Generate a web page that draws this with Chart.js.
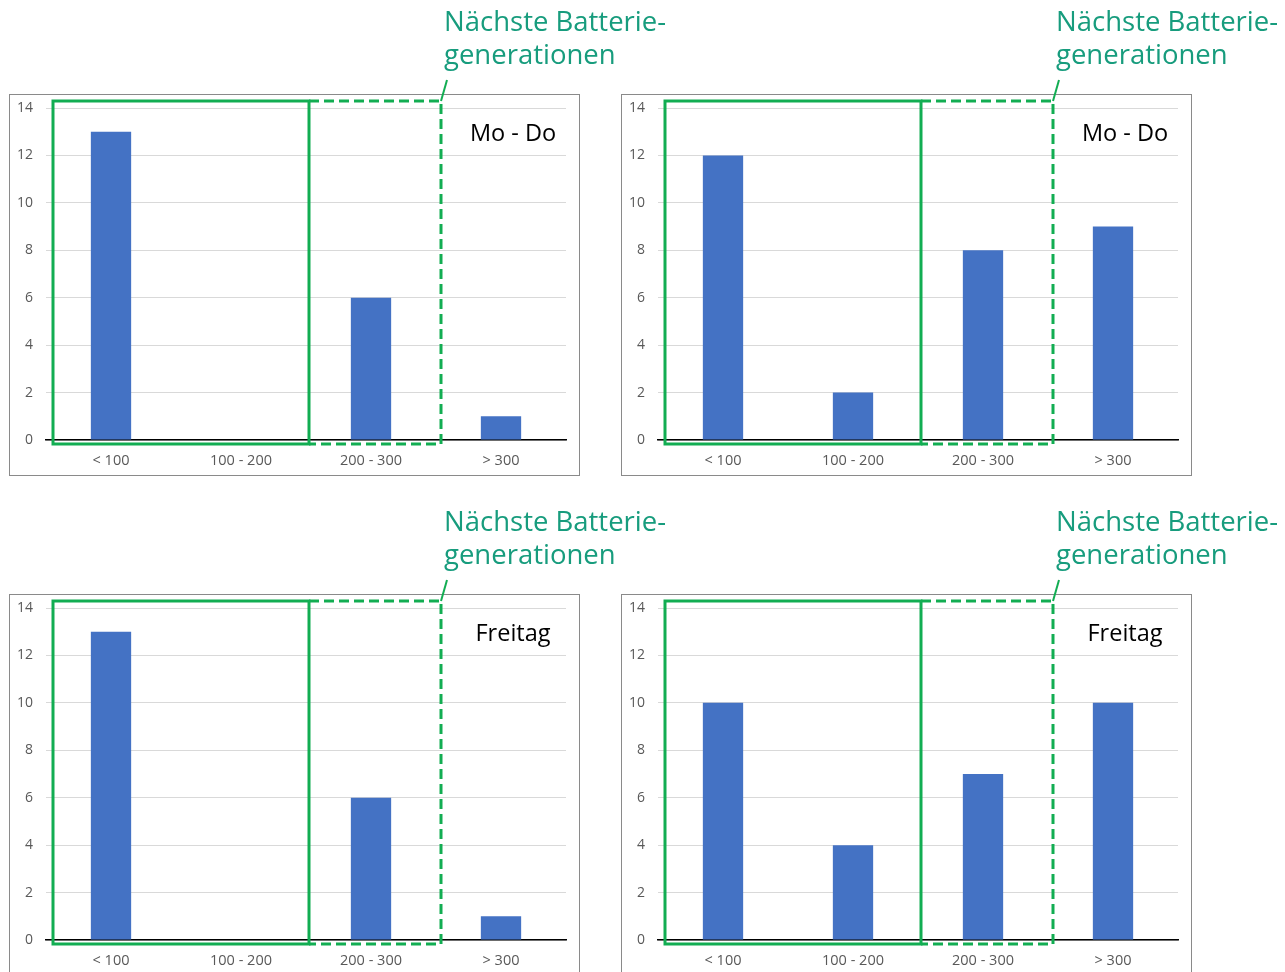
<!DOCTYPE html>
<html lang="de">
<head>
<meta charset="utf-8">
<title>Batteriegenerationen</title>
<script src="https://cdn.jsdelivr.net/npm/chart.js@4"></script>
<style>
    html, body { margin: 0; padding: 0; background: #fff; }
    #page { position: relative; width: 1285px; height: 972px; overflow: hidden; }
    #page canvas { position: absolute; }
</style>
</head>
<body>
<div id="page">
    <canvas id="moDoLinks" width="680" height="480" style="left:0;top:0"></canvas>
    <canvas id="moDoRechts" width="673" height="480" style="left:612px;top:0"></canvas>
    <canvas id="freitagLinks" width="680" height="480" style="left:0;top:500px"></canvas>
    <canvas id="freitagRechts" width="673" height="480" style="left:612px;top:500px"></canvas>
</div>
<script>
const categories = ['< 100', '100 - 200', '200 - 300', '> 300'];
const moDoLinks = [13, 0, 6, 1];
const moDoRechts = [12, 2, 8, 9];
const freitagLinks = [13, 0, 6, 1];
const freitagRechts = [10, 4, 7, 10];
const yMax = 14;
const yStep = 2;
const calloutLines = ['Nächste Batterie-', 'generationen'];

const BAR_BLUE = '#4472C4';
const FRAME_GREEN = '#12AD52';
const TEXT_GREEN = '#179C7D';

// frame, green ranges, callout and day label
const rangesPlugin = {
    id: 'ranges',
    beforeDraw(chart) {
        const ctx = chart.ctx;
        ctx.save();
        ctx.strokeStyle = '#8a8a8a';
        ctx.lineWidth = 1;
        ctx.strokeRect(9.5, 94.5, 570, 381);
        ctx.restore();
    },
    afterDraw(chart, args, opts) {
        const ctx = chart.ctx;
        const x = chart.scales.x;
        const y = chart.scales.y;
        const cw = x.getPixelForValue(1) - x.getPixelForValue(0);
        const left = x.getPixelForValue(0) - cw / 2 + 7;
        const mid = x.getPixelForValue(1) + cw / 2 + 3;
        const right = x.getPixelForValue(2) + cw / 2 + 5;
        const top = y.getPixelForValue(yMax) - 7;
        const bottom = y.getPixelForValue(0) + 4;

        ctx.save();
        ctx.strokeStyle = FRAME_GREEN;
        ctx.lineWidth = 3;
        ctx.strokeRect(left, top, mid - left, bottom - top);

        ctx.setLineDash([10, 5]);
        ctx.beginPath();
        ctx.moveTo(mid, top);
        ctx.lineTo(right, top);
        ctx.lineTo(right, bottom);
        ctx.lineTo(mid, bottom);
        ctx.stroke();

        ctx.setLineDash([]);
        ctx.lineWidth = 2;
        ctx.beginPath();
        ctx.moveTo(right, top);
        ctx.lineTo(right + 6, top - 21);
        ctx.stroke();

        ctx.fillStyle = TEXT_GREEN;
        ctx.font = '27.5px "Open Sans"';
        ctx.textAlign = 'left';
        ctx.textBaseline = 'middle';
        ctx.fillText(calloutLines[0], right + 3, 23);
        ctx.fillText(calloutLines[1], right + 3, 56);

        ctx.fillStyle = '#000';
        ctx.font = '23.5px "Open Sans"';
        ctx.textAlign = 'center';
        ctx.fillText(opts.label, 513, 134);
        ctx.restore();
    }
};

function makeChart(id, values, label) {
    const canvas = document.getElementById(id);
    return new Chart(canvas, {
        type: 'bar',
        data: {
            labels: categories,
            datasets: [{
                data: values,
                backgroundColor: BAR_BLUE,
                categoryPercentage: 1,
                barPercentage: 0.31
            }]
        },
        options: {
            responsive: false,
            animation: false,
            devicePixelRatio: 1,
            layout: {
                padding: { left: 12, right: canvas.width - 566, top: 108, bottom: canvas.height - 470 }
            },
            plugins: {
                legend: { display: false },
                tooltip: { enabled: false },
                ranges: { label: label }
            },
            scales: {
                x: {
                    grid: { display: false },
                    border: { display: true, color: '#000', width: 1.5 },
                    ticks: { color: '#595959', font: { family: 'Open Sans', size: 14.5 }, padding: 4 },
                    afterFit: s => { s.height = 30; }
                },
                y: {
                    min: 0,
                    max: yMax,
                    ticks: { stepSize: yStep, color: '#595959', font: { family: 'Open Sans', size: 14 }, padding: 13 },
                    grid: { color: '#d9d9d9', lineWidth: 1, drawTicks: false },
                    border: { display: false },
                    afterFit: s => { s.width = 34; }
                }
            }
        },
        plugins: [rangesPlugin]
    });
}

makeChart('moDoLinks', moDoLinks, 'Mo - Do');
makeChart('moDoRechts', moDoRechts, 'Mo - Do');
makeChart('freitagLinks', freitagLinks, 'Freitag');
makeChart('freitagRechts', freitagRechts, 'Freitag');
</script>
</body>
</html>
